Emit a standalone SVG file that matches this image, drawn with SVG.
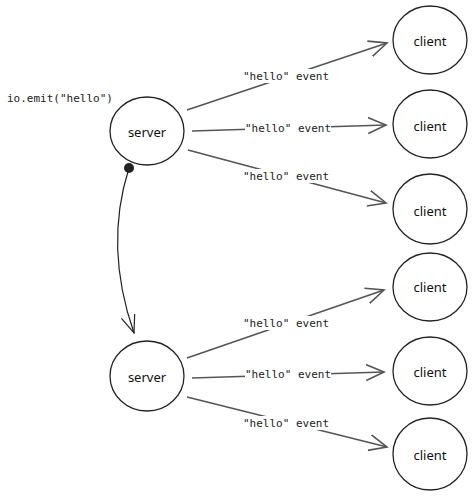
<svg xmlns="http://www.w3.org/2000/svg" width="474" height="496" viewBox="0 0 474 496">
<defs>
<style>
.node{fill:#fff;stroke:#222;stroke-width:1.3}
.nl{font-family:"Noto Sans",sans-serif;font-size:13px;fill:#111;text-anchor:middle;dominant-baseline:central}
.edge{fill:none;stroke:#555;stroke-width:1.6}
.lbl{font-family:"DejaVu Sans Mono",monospace;font-size:11px;fill:#222;text-anchor:middle;dominant-baseline:central}
.bg{fill:#fff}
</style>
<marker id="ah" viewBox="0 0 20 20" refX="18" refY="10" markerWidth="20" markerHeight="20" markerUnits="userSpaceOnUse" orient="auto">
<path d="M0,2 L18,10 L0,18" fill="none" stroke="#555" stroke-width="1.6"/>
</marker>
<marker id="ah2" viewBox="0 0 20 20" refX="18" refY="10" markerWidth="20" markerHeight="20" markerUnits="userSpaceOnUse" orient="auto">
<path d="M0,3 L18,10 L0,17" fill="none" stroke="#222" stroke-width="1.2"/>
</marker>
</defs>
<rect width="474" height="496" fill="#fff"/>
<text x="7" y="98" font-family="DejaVu Sans Mono,monospace" font-size="11px" fill="#222" dominant-baseline="central">io.emit("hello")</text>
<g id="connectors">
<line class="edge" x1="187" y1="110" x2="387" y2="43" marker-end="url(#ah)"/>
<line class="edge" x1="192" y1="131" x2="386" y2="125" marker-end="url(#ah)"/>
<line class="edge" x1="188" y1="150" x2="386" y2="203" marker-end="url(#ah)"/>
<line class="edge" x1="187" y1="358" x2="384" y2="290" marker-end="url(#ah)"/>
<line class="edge" x1="192" y1="378" x2="384" y2="372" marker-end="url(#ah)"/>
<line class="edge" x1="187" y1="397" x2="387" y2="447" marker-end="url(#ah)"/>
<path d="M129,168 C114,215 112,270 134,333" fill="none" stroke="#222" stroke-width="1.2" marker-end="url(#ah2)"/>
<circle cx="129" cy="168" r="5" fill="#222"/>
<rect class="bg" x="243" y="69" width="86" height="14"/>
<text class="lbl" x="286" y="76">"hello" event</text>
<rect class="bg" x="245" y="121" width="86" height="14"/>
<text class="lbl" x="288" y="128">"hello" event</text>
<rect class="bg" x="243" y="169" width="86" height="14"/>
<text class="lbl" x="286" y="176">"hello" event</text>
<rect class="bg" x="243" y="316" width="86" height="14"/>
<text class="lbl" x="286" y="323">"hello" event</text>
<rect class="bg" x="245" y="367" width="86" height="14"/>
<text class="lbl" x="288" y="374">"hello" event</text>
<rect class="bg" x="243" y="416" width="86" height="14"/>
<text class="lbl" x="286" y="423">"hello" event</text>
</g>
<g id="server1"><ellipse class="node" cx="147" cy="131" rx="37" ry="34"/><text class="nl" x="147" y="132">server</text></g>
<g id="server2"><ellipse class="node" cx="147" cy="376" rx="37" ry="35"/><text class="nl" x="147" y="377">server</text></g>
<g id="client1"><ellipse class="node" cx="430" cy="40" rx="37" ry="34"/><text class="nl" x="430" y="41">client</text></g>
<g id="client2"><ellipse class="node" cx="430" cy="124" rx="37" ry="34"/><text class="nl" x="430" y="126">client</text></g>
<g id="client3"><ellipse class="node" cx="430" cy="209" rx="37" ry="35"/><text class="nl" x="430" y="211">client</text></g>
<g id="client4"><ellipse class="node" cx="430" cy="287" rx="37" ry="34"/><text class="nl" x="430" y="287">client</text></g>
<g id="client5"><ellipse class="node" cx="430" cy="371" rx="37" ry="34"/><text class="nl" x="430" y="372">client</text></g>
<g id="client6"><ellipse class="node" cx="430" cy="454" rx="37" ry="36"/><text class="nl" x="430" y="455">client</text></g>
</svg>
